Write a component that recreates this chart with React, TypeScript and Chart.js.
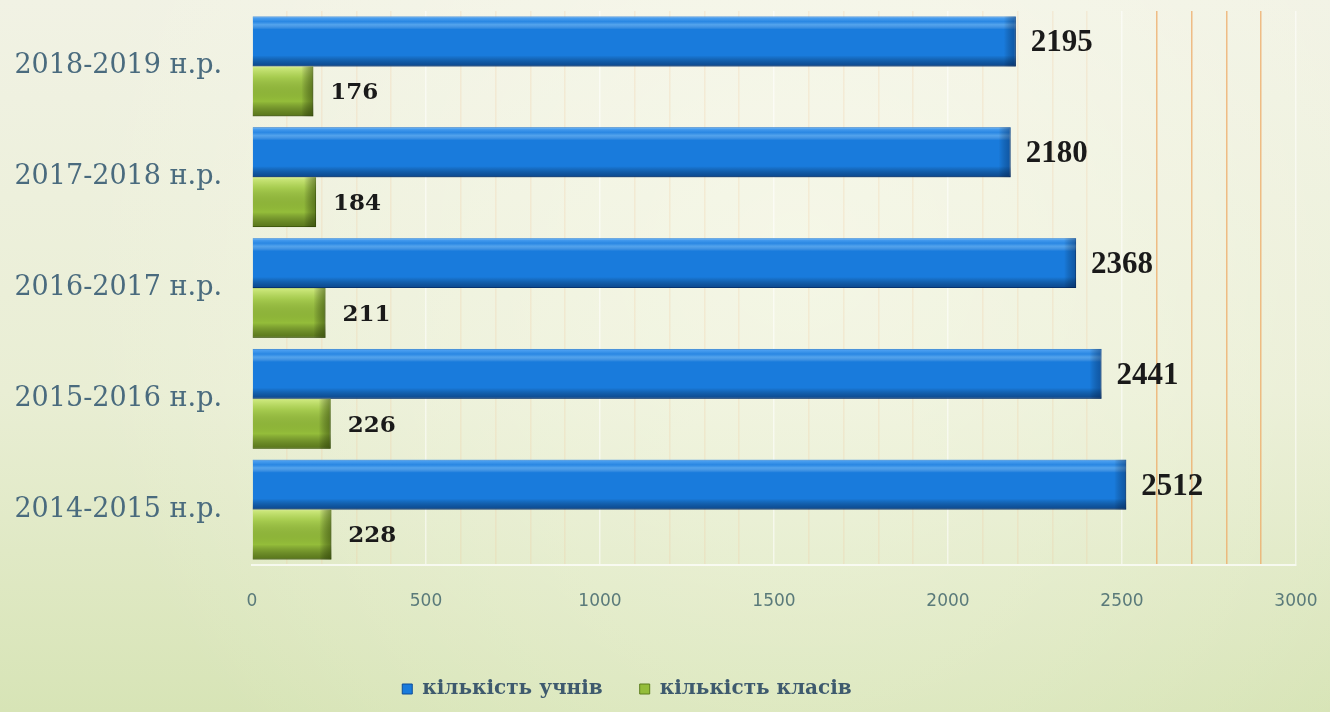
import React, { useEffect, useRef } from "react";
import { Chart, registerables } from "chart.js";

Chart.register(...registerables);

const categories = ["2018-2019 н.р.", "2017-2018 н.р.", "2016-2017 н.р.", "2015-2016 н.р.", "2014-2015 н.р."];
const students = [2195, 2180, 2368, 2441, 2512];
const classes = [176, 184, 211, 226, 228];
const seriesNames = ["кількість учнів", "кількість класів"];
const xMin = 0;
const xMax = 3000;

const bgPlugin = {
  id: "bgPlugin",
  beforeDraw(chart: any) {
    const { ctx, width, height } = chart;
    ctx.save();
    const g = ctx.createLinearGradient(0, 0, 0, height);
    g.addColorStop(0, "#f1f2e4");
    g.addColorStop(0.55, "#e9eed4");
    g.addColorStop(1, "#d7e4b6");
    ctx.fillStyle = g;
    ctx.fillRect(0, 0, width, height);
    const r = ctx.createRadialGradient(width * 0.6, height * 0.35, 10, width * 0.6, height * 0.35, width * 0.55);
    r.addColorStop(0, "rgba(255,255,245,0.45)");
    r.addColorStop(1, "rgba(255,255,245,0)");
    ctx.fillStyle = r;
    ctx.fillRect(0, 0, width, height);
    ctx.restore();
  },
};

const legendShiftPlugin = {
  id: "legendShift",
  afterLayout(chart: any) {
    const l = chart.legend;
    if (l) {
      l.left -= 21;
      l.right -= 21;
    }
  },
};

const bevelPlugin = {
  id: "bevelPlugin",
  afterDatasetsDraw(chart: any) {
    const { ctx } = chart;
    chart.data.datasets.forEach((ds: any, di: number) => {
      const meta = chart.getDatasetMeta(di);
      meta.data.forEach((el: any) => {
        const { x, y, base, height } = el.getProps(["x", "y", "base", "height"], true);
        const top = y - height / 2;
        const left = Math.min(base, x);
        const w = Math.abs(x - base);
        ctx.save();
        const g = ctx.createLinearGradient(0, top, 0, top + height);
        if (di === 0) {
          g.addColorStop(0, "rgba(110,185,255,0.7)");
          g.addColorStop(0.1, "rgba(110,185,255,0.2)");
          g.addColorStop(0.16, "rgba(150,210,255,0.45)");
          g.addColorStop(0.26, "rgba(255,255,255,0)");
          g.addColorStop(0.78, "rgba(0,0,0,0)");
          g.addColorStop(1, "rgba(0,30,80,0.55)");
        } else {
          g.addColorStop(0, "rgba(235,255,160,0.7)");
          g.addColorStop(0.22, "rgba(220,245,140,0.25)");
          g.addColorStop(0.7, "rgba(0,0,0,0)");
          g.addColorStop(1, "rgba(40,60,0,0.55)");
        }
        ctx.fillStyle = g;
        ctx.fillRect(left, top, w, height);
        const gr = ctx.createLinearGradient(left + w - 12, 0, left + w, 0);
        gr.addColorStop(0, "rgba(0,0,0,0)");
        gr.addColorStop(1, di === 0 ? "rgba(0,30,80,0.4)" : "rgba(40,60,0,0.5)");
        ctx.fillStyle = gr;
        ctx.fillRect(left + w - 12, top, 12, height);
        ctx.restore();
      });
    });
  },
};

const valueLabelPlugin = {
  id: "valueLabelPlugin",
  afterDatasetsDraw(chart: any) {
    const { ctx } = chart;
    chart.data.datasets.forEach((ds: any, di: number) => {
      const meta = chart.getDatasetMeta(di);
      meta.data.forEach((el: any, i: number) => {
        const { x, y } = el.getProps(["x", "y"], true);
        ctx.save();
        ctx.fillStyle = "#1a1a1a";
        ctx.textAlign = "left";
        ctx.textBaseline = "middle";
        ctx.font = di === 0 ? 'bold 31px "Liberation Serif"' : 'bold 23px "DejaVu Serif"';
        ctx.fillText(String(ds.data[i]), x + (di === 0 ? 15 : 17), y + 2);
        ctx.restore();
      });
    });
  },
};

export default function App() {
  const canvasRef = useRef<HTMLCanvasElement | null>(null);

  useEffect(() => {
    document.body.style.margin = "0";
    const canvas = canvasRef.current;
    if (!canvas) return;
    const chart = new Chart(canvas, {
      type: "bar",
      data: {
        labels: categories,
        datasets: [
          {
            label: seriesNames[0],
            data: students,
            backgroundColor: "#197bdc",
            borderColor: "#0c4d98",
            borderWidth: 1,
            barPercentage: 1.0,
            categoryPercentage: 0.9,
          },
          {
            label: seriesNames[1],
            data: classes,
            backgroundColor: "#94bd3a",
            borderColor: "#5d7e1d",
            borderWidth: 1,
            barPercentage: 1.0,
            categoryPercentage: 0.9,
          },
        ],
      },
      options: {
        indexAxis: "y",
        animation: false,
        responsive: false,
        maintainAspectRatio: false,
        layout: { padding: { top: 11, right: 34, bottom: 3, left: 0 } },
        scales: {
          x: {
            min: xMin,
            max: xMax,
            afterFit(scale: any) {
              scale.height = 77;
              scale.paddingLeft = 0;
              scale.paddingRight = 0;
            },
            ticks: {
              stepSize: 100,
              autoSkip: false,
              maxRotation: 0,
              padding: 26,
              color: "#5a7a7a",
              font: { family: "DejaVu Sans", size: 17 },
              callback: (v: any) => (Number(v) % 500 === 0 ? String(v) : ""),
            },
            grid: {
              drawTicks: false,
              lineWidth: 1.5,
              color: (ctx: any) => {
                const v = ctx.tick ? ctx.tick.value : 0;
                if (v === 0) return "rgba(0,0,0,0)";
                if (v >= 2600 && v <= 2900) return "rgba(238,170,100,0.75)";
                if (v % 500 === 0) return "rgba(255,255,255,0.55)";
                return "rgba(240,195,150,0.22)";
              },
            },
            border: { display: true, color: "rgba(255,255,255,0.7)", width: 2 },
          },
          y: {
            afterFit(scale: any) {
              scale.width = 252;
              scale.paddingTop = 0;
              scale.paddingBottom = 0;
            },
            ticks: {
              padding: 30,
              color: "#4a6b7e",
              font: { family: "DejaVu Serif", size: 27 },
            },
            grid: { display: false, drawTicks: false },
            border: { display: false },
          },
        },
        plugins: {
          legend: {
            position: "bottom",
            labels: {
              boxWidth: 10,
              boxHeight: 10,
              padding: 37,
              color: "#3e5a6e",
              font: { family: "DejaVu Serif", size: 20, weight: "bold" },
            },
          },
          tooltip: { enabled: false },
        },
      },
      plugins: [bgPlugin, legendShiftPlugin, bevelPlugin, valueLabelPlugin],
    } as any);
    return () => chart.destroy();
  }, []);

  return (
    <div style={{ width: 1330, height: 712 }}>
      <canvas ref={canvasRef} width={1330} height={712} style={{ display: "block" }} />
    </div>
  );
}
